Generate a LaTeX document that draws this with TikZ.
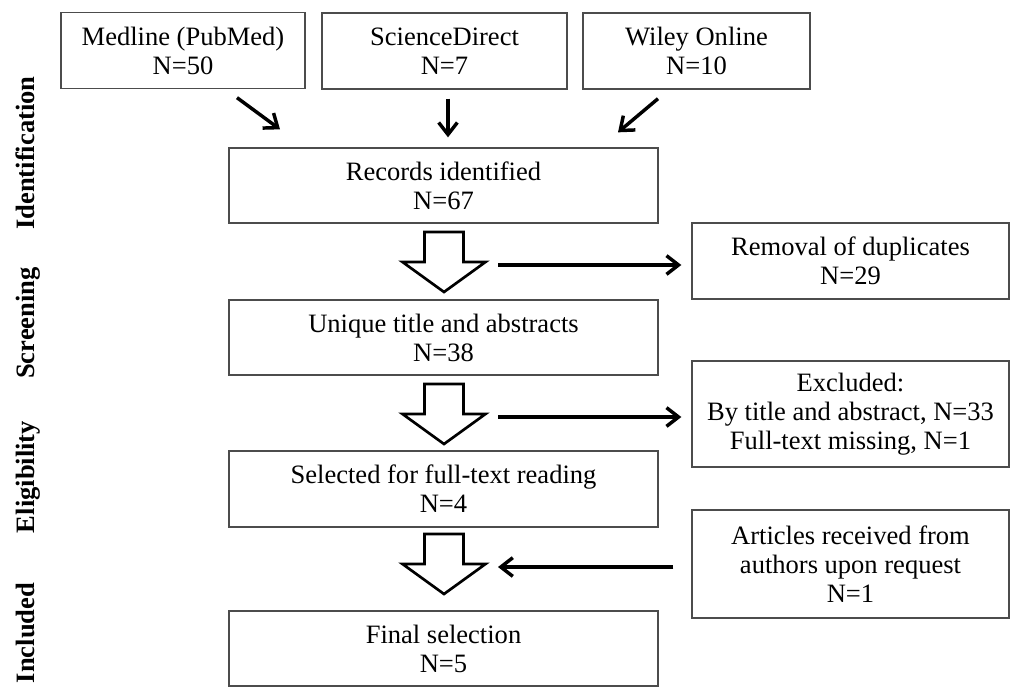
\documentclass[tikz,border=0pt]{standalone}
\usepackage{fontspec}
\setmainfont{Liberation Serif}
\newfontfamily\sidefont{Liberation Serif}
\usetikzlibrary{arrows.meta,calc}
\def\px{0.75pt}
\tikzset{
	box/.style={draw=black!70,line width=1pt,align=center,inner sep=0pt,font=\fontsize{19.9}{21.8}\selectfont},
	flow/.style={line width=2.6pt,-{Straight Barb[length=9pt,width=14pt]}},
	hol/.style={line width=2pt,fill=white,line join=miter},
	side/.style={rotate=90,anchor=base,font=\sidefont\bfseries\fontsize{19.9}{24}\selectfont}
}
\newcommand{\flowbox}[6]{\node[box,minimum width=#3*\px,minimum height=#4*\px] (#5) at (#1,#2) {#6};}
\newcommand{\hollow}[2]{\coordinate (#1) at (444,#2);
	\draw[hol] (#1) ++(-19.5,-33) -- ++(0,30) -- ++(-22,0) -- ++(41.5,30) -- ++(41.5,-30) -- ++(-22,0) -- ++(0,-30) -- cycle;}

\begin{document}
\begin{tikzpicture}[x=0.75pt,y=-0.75pt]
	\useasboundingbox (0,0) rectangle (1010,687);

	\node[side] (ident) at (34,153) {Identification};
	\node[side] (screen) at (34,323) {Screening};
	\node[side] (elig) at (34,477) {Eligibility};
	\node[side] (incl) at (34,633) {Included};

	\flowbox{183}{50.5}{244}{76}{med}{Medline (PubMed)\\N=50}
	\flowbox{444.5}{51}{245}{76}{sci}{ScienceDirect\\N=7}
	\flowbox{696.5}{51}{227}{76}{wil}{Wiley Online\\N=10}
	\flowbox{443.5}{185.5}{429}{75}{rec}{Records identified\\N=67}
	\flowbox{850.5}{261}{317}{76}{rem}{Removal of duplicates\\N=29}
	\flowbox{443.5}{337.5}{429}{75}{uni}{Unique title and abstracts\\N=38}
	\flowbox{850.5}{414}{317}{106}{exc}{Excluded:\\By title and abstract, N=33\\Full-text missing, N=1}
	\flowbox{443.5}{489}{429}{76}{sel}{Selected for full-text reading\\N=4}
	\flowbox{850.5}{564}{317}{108}{art}{Articles received from\\authors upon request\\N=1}
	\flowbox{443.5}{648.5}{429}{75}{fin}{Final selection\\N=5}

	\hollow{h1}{265}
	\hollow{h2}{417}
	\hollow{h3}{567}

	\draw[flow] ($(med.south)+(54,8.5)$) -- ($(rec.north)+(-163.5,-18)$);
	\draw[flow] ($(sci.south)+(3.5,9)$) -- ($(rec.north)+(4.5,-10)$);
	\draw[flow] ($(wil.south)+(-38.5,9)$) -- ($(rec.north)+(174.5,-15)$);

	\draw[flow,shorten <=40.5pt,shorten >=7.5pt] (h1) -- (h1 -| rem.west);
	\draw[flow,shorten <=40.5pt,shorten >=7.5pt] (h2) -- (h2 -| exc.west);
	\draw[flow,shorten <=13.5pt,shorten >=40.5pt] (h3 -| art.west) -- (h3);
\end{tikzpicture}
\end{document}
